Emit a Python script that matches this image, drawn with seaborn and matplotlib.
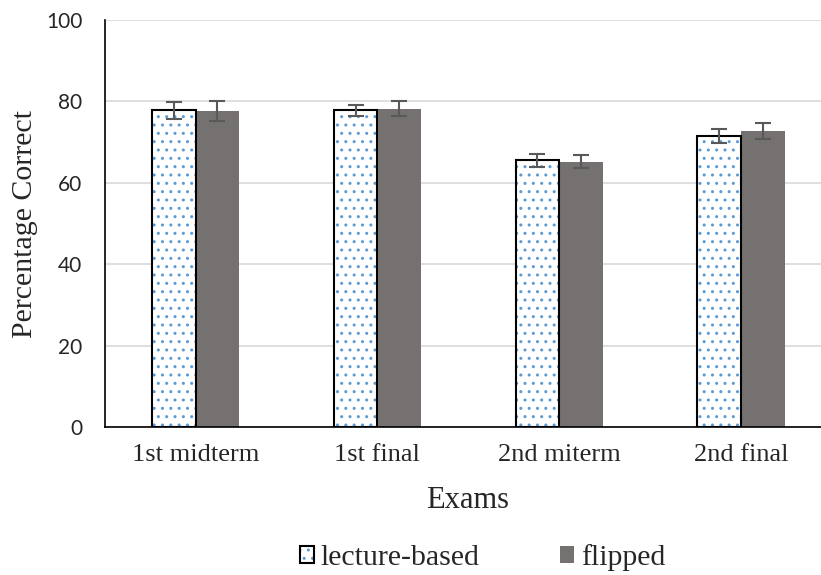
import numpy as np
import pandas as pd
import matplotlib.pyplot as plt
import seaborn as sns
from matplotlib.patches import Patch, Rectangle

exams = ["1st midterm", "1st final", "2nd miterm", "2nd final"]
lecture = [77.8, 77.8, 65.5, 71.6]
flipped = [77.6, 78.2, 65.2, 72.7]
lecture_err = [2.1, 1.3, 1.5, 1.7]
flipped_err = [2.5, 1.9, 1.6, 2.0]

df = pd.DataFrame({
    "exam": exams * 2,
    "group": ["lecture-based"] * 4 + ["flipped"] * 4,
    "score": lecture + flipped,
    "err": lecture_err + flipped_err,
})

sns.set_style("white")
plt.rcParams['font.family'] = ['Liberation Serif', 'DejaVu Sans']
plt.rcParams['hatch.linewidth'] = 1.0

blue = "#5B9BD5"
grey = "#767171"

fig = plt.figure(figsize=(8.21, 5.75), dpi=100)
ax = fig.add_axes([0.1275, 0.2574, 0.8725, 0.7078])

sns.barplot(data=df, x="exam", y="score", hue="group", order=exams,
            hue_order=["lecture-based", "flipped"],
            palette=["white", grey], errorbar=None, width=0.48,
            saturation=1, legend=False, ax=ax, zorder=2)

# lecture bars: dotted fill + black outline, flipped: plain grey
bars = ax.patches[:8]
for i, p in enumerate(bars):
    if i < 4:
        p.set_hatch("..")
        p.set_edgecolor(blue)
        p.set_linewidth(0)
        ax.add_patch(Rectangle(p.get_xy(), p.get_width(), p.get_height(),
                               fill=False, edgecolor="black", lw=1.5, zorder=3))
    else:
        p.set_edgecolor("none")
        p.set_linewidth(0)

xs = [p.get_x() + p.get_width() / 2 for p in bars]
ys = [p.get_height() for p in bars]
ax.errorbar(xs, ys, yerr=df["err"], fmt="none", ecolor="#595959",
            elinewidth=1.5, capsize=6, capthick=1.5, zorder=4)

ax.set_ylim(0, 100)
ax.set_xlim(-0.5, 3.44)
ax.set_yticks([0, 20, 40, 60, 80, 100])
ax.yaxis.grid(True, color="#D9D9D9", lw=1.2, zorder=0)
ax.set_axisbelow(True)
for s in ["top", "right"]:
    ax.spines[s].set_visible(False)
for s in ["left", "bottom"]:
    ax.spines[s].set_color("black")
    ax.spines[s].set_linewidth(1.2)
ax.tick_params(axis="both", length=0)
ax.tick_params(axis="x", labelsize=19, pad=12)
for t in ax.get_yticklabels():
    t.set_fontfamily("Lato")
    t.set_fontsize(15)
ax.tick_params(axis="y", pad=16)

ax.set_xlabel("Exams", fontsize=22, labelpad=16)
ax.xaxis.set_label_coords(0.507, -0.145)
ax.set_ylabel("Percentage Correct", fontsize=21.5, labelpad=6)

lect_handle = (Patch(facecolor="white", edgecolor=blue, hatch="..", lw=0),
               Patch(fill=False, edgecolor="black", lw=1.5))
handles = [lect_handle, Patch(facecolor=grey, edgecolor="none")]
from matplotlib.legend_handler import HandlerTuple
leg = fig.legend(handles, ["lecture-based", "flipped"], loc="center",
                 bbox_to_anchor=(0.588, 0.03), ncol=2, frameon=False,
                 fontsize=21.5, handlelength=0.47, handleheight=0.47,
                 handletextpad=0.23, columnspacing=2.7,
                 handler_map={tuple: HandlerTuple(ndivide=1)})

fig.savefig("out.png", dpi=100)
